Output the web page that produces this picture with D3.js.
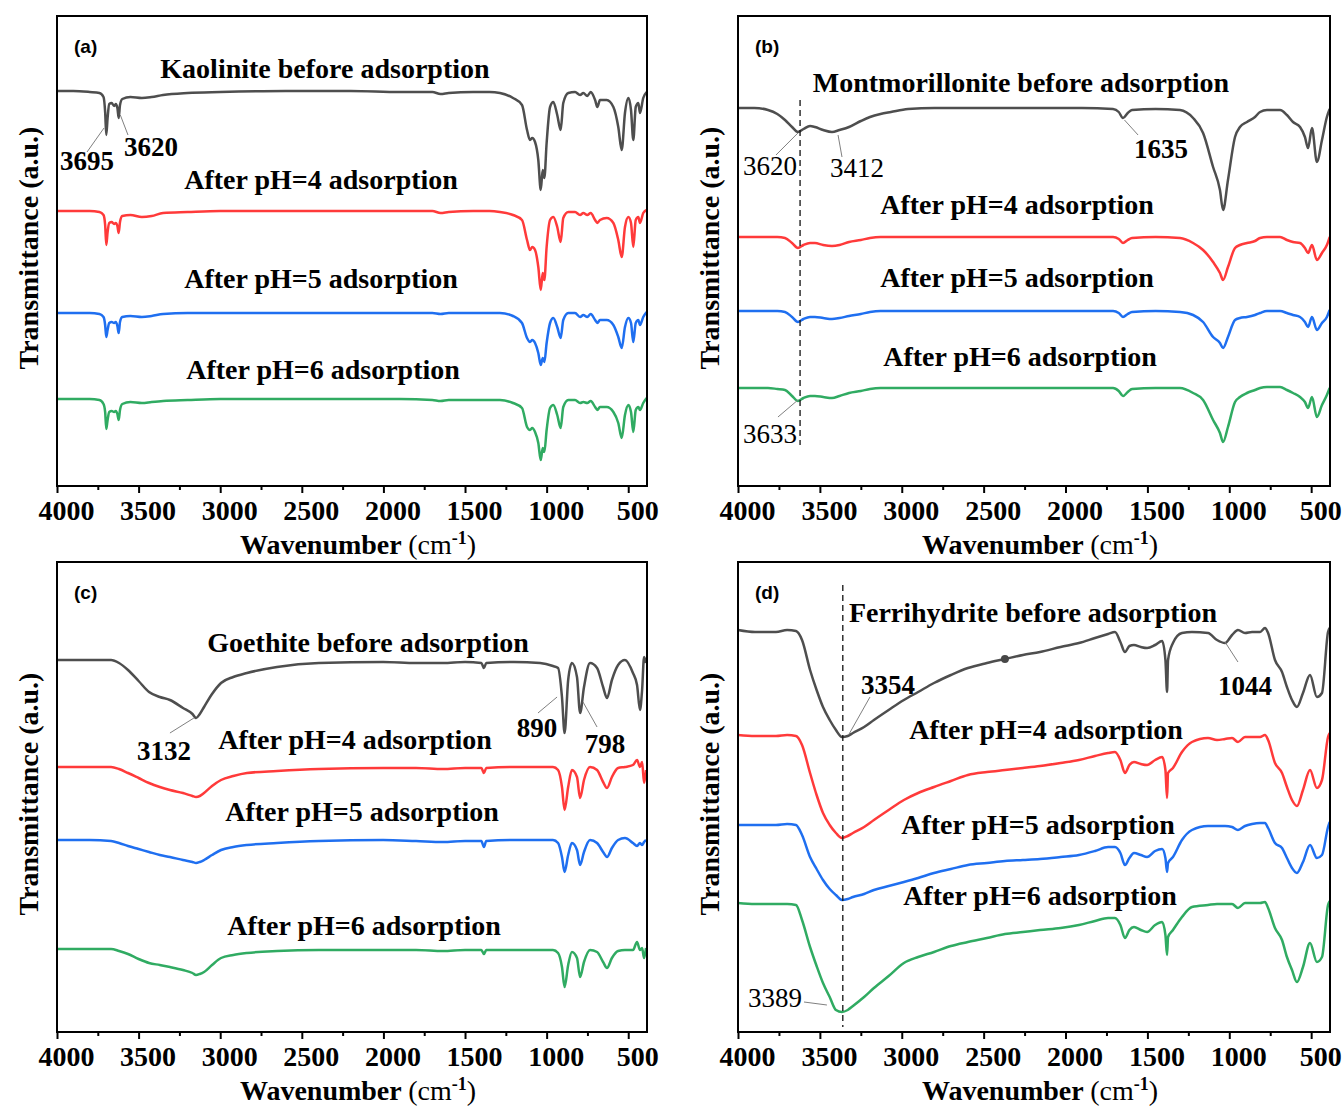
<!DOCTYPE html>
<html>
<head>
<meta charset="utf-8">
<script src="https://cdn.jsdelivr.net/npm/d3@7"></script>
<style>
  body { margin: 0; background: #fff; }
</style>
</head>
<body>
<svg id="fig"></svg>
<script>
// wavenumbers (cm-1) and transmittance (a.u., offset)

// (a) kaolinite
var wnA = [4000,3900,3800,3740,3715,3705,3698,3690,3680,3665,3650,3640,3630,3622,3614,3600,3550,3480,3420,3350,3200,3000,2600,2200,1900,1700,1650,1600,1450,1350,1286,1206,1151,1120,1102,1088,1071,1051,1036,1024,1014,1000,979,959,935,914,898,867,826,795,775,751,730,703,689,673,632,591,561,540,520,499,483,469,454,438,428,408,387];
var kaoBefore = [39.5,39.5,39.4,39.3,38.9,37.4,35.1,36.8,38.2,38.3,38.0,38.2,37.8,36.8,38.1,38.7,38.9,38.8,38.9,39.1,39.3,39.4,39.5,39.5,39.4,39.4,39.2,39.3,39.4,39.4,39.3,38.8,38.1,35.6,34.6,34.8,34.4,32.6,29.6,31.6,30.8,34.3,37.9,38.4,37.1,35.6,38.3,39.3,39.4,39.1,39.3,39.0,39.4,38.6,37.9,38.6,38.6,37.9,35.9,33.6,37.3,38.8,37.6,34.6,37.9,38.3,37.3,38.8,39.4];
var kaoPH4 = [27.5,27.5,27.5,27.4,27.1,26.1,24.1,25.4,26.3,26.4,26.2,26.3,26.0,25.3,26.4,27.0,27.1,26.9,27.0,27.3,27.4,27.5,27.5,27.5,27.5,27.5,27.3,27.4,27.5,27.5,27.4,27.1,26.6,24.6,23.6,23.9,23.6,21.9,19.6,21.3,20.6,23.9,26.6,26.9,25.9,24.4,26.8,27.4,27.4,27.1,27.3,27.1,27.3,26.6,26.3,26.6,26.8,26.3,24.6,22.9,25.9,26.9,26.3,23.9,26.6,26.9,26.3,27.3,27.6];
var kaoPH5 = [17.3,17.3,17.3,17.2,16.9,16.1,14.9,15.6,16.3,16.4,16.3,16.4,16.0,15.3,16.4,16.9,17.0,16.9,17.0,17.2,17.3,17.3,17.3,17.3,17.3,17.3,17.2,17.3,17.3,17.3,17.3,17.0,16.3,14.8,14.4,14.6,14.3,13.3,12.1,12.8,12.4,14.3,16.3,16.8,15.9,14.8,16.6,17.3,17.3,16.9,17.1,16.9,17.2,16.6,16.3,16.6,16.6,16.1,14.9,13.8,15.9,16.8,16.3,14.4,16.3,16.6,16.1,16.9,17.4];
var kaoPH6 = [8.7,8.7,8.7,8.6,8.2,7.4,5.7,6.6,7.4,7.5,7.4,7.5,7.2,6.6,7.6,8.2,8.4,8.3,8.4,8.5,8.6,8.7,8.7,8.7,8.7,8.6,8.5,8.6,8.6,8.6,8.6,8.3,7.8,5.9,5.6,5.8,5.4,4.3,2.6,3.8,3.4,5.6,7.8,8.1,7.1,5.8,7.9,8.6,8.6,8.3,8.4,8.3,8.5,7.9,7.6,7.9,7.9,7.4,6.3,4.8,7.1,8.1,7.4,5.4,7.6,7.9,7.6,8.3,8.8];

// (b) montmorillonite
var wnB = [4000,3900,3817,3760,3713,3670,3634,3600,3560,3530,3480,3426,3380,3322,3250,3194,3130,3066,2962,2800,2500,2200,1900,1710,1675,1649,1620,1594,1450,1301,1221,1160,1099,1057,1038,1008,965,935,892,843,812,770,690,648,611,568,538,519,495,465,434,404,387];
var monBefore = [37.8,37.8,37.6,37.2,36.6,35.9,35.4,35.7,36.0,35.9,35.6,35.4,35.6,35.9,36.5,36.9,37.2,37.4,37.7,37.8,37.8,37.8,37.8,37.7,37.4,36.8,37.3,37.6,37.7,37.6,36.8,35.3,31.9,29.6,27.6,30.6,34.9,35.9,36.4,36.9,37.4,37.6,37.6,37.1,36.4,35.9,34.9,33.8,35.8,32.4,34.6,36.9,37.7];
var monPH4 = [24.9,24.9,24.9,24.9,24.8,24.3,23.8,24.1,24.3,24.3,24.1,24.0,24.1,24.4,24.6,24.8,24.9,24.9,24.9,24.9,24.9,24.9,24.9,24.9,24.7,24.3,24.6,24.8,24.9,24.8,24.3,23.6,22.4,21.3,20.6,21.9,23.8,24.1,24.3,24.5,24.8,24.9,24.9,24.6,24.4,24.3,23.8,23.3,24.1,22.6,23.3,24.1,24.9];
var monPH5 = [17.5,17.5,17.5,17.5,17.4,16.9,16.4,16.7,16.9,16.9,16.8,16.7,16.8,17.0,17.2,17.4,17.5,17.5,17.5,17.5,17.5,17.5,17.5,17.5,17.3,16.9,17.2,17.4,17.5,17.4,17.1,16.4,14.9,14.3,13.8,14.9,16.6,16.8,16.9,17.1,17.3,17.5,17.5,17.3,17.1,16.9,16.4,15.9,16.9,15.6,16.3,16.9,17.6];
var monPH6 = [9.8,9.8,9.8,9.7,9.6,9.0,8.5,8.8,9.0,9.0,8.9,8.8,9.0,9.3,9.5,9.7,9.8,9.8,9.8,9.8,9.8,9.8,9.8,9.8,9.5,9.0,9.4,9.7,9.8,9.8,9.3,8.6,6.6,5.3,4.4,5.9,8.4,8.9,9.3,9.6,9.8,9.9,9.9,9.6,9.3,8.9,8.4,7.8,8.9,6.9,8.1,9.1,9.8];

// (c) goethite
var wnC = [4000,3800,3669,3620,3565,3500,3436,3370,3308,3228,3170,3148,3125,3099,3050,2995,2920,2836,2652,2395,2002,1800,1635,1500,1400,1384,1370,1200,1040,961,930,906,890,868,845,814,795,771,734,691,654,630,600,562,520,471,446,428,415,403,391];
var goeBefore = [37.2,37.2,37.2,36.9,36.2,35.1,34.0,33.5,33.2,32.4,31.8,31.4,31.8,32.5,33.8,34.9,35.5,35.9,36.5,36.9,37.0,36.9,36.9,37.0,36.9,36.4,36.9,37.0,36.9,36.6,36.4,33.5,29.9,35.2,36.9,35.5,31.9,34.5,36.9,36.4,34.5,33.4,35.2,36.7,37.2,35.9,34.7,32.2,34.2,37.5,36.9];
var goePH4 = [26.5,26.5,26.5,26.3,25.9,25.4,24.9,24.5,24.2,23.9,23.6,23.5,23.6,23.9,24.6,25.2,25.6,25.9,26.1,26.3,26.4,26.4,26.3,26.4,26.4,25.9,26.4,26.5,26.5,26.5,26.2,24.5,22.2,24.5,26.2,25.5,23.4,25.2,26.5,26.2,25.0,24.4,25.5,26.4,26.5,26.7,27.2,26.5,27.0,24.9,26.2];
var goePH5 = [19.2,19.2,19.1,18.9,18.6,18.3,18.0,17.7,17.5,17.2,17.0,16.9,17.0,17.2,17.7,18.2,18.5,18.7,18.9,19.1,19.2,19.1,19.0,19.1,19.1,18.5,19.1,19.2,19.2,19.2,18.9,17.5,16.0,17.7,18.9,18.2,16.7,18.0,19.2,18.9,18.0,17.5,18.4,19.2,19.4,18.9,18.6,18.9,18.7,19.0,19.2];
var goePH6 = [8.3,8.3,8.3,8.1,7.8,7.3,6.9,6.7,6.5,6.2,5.9,5.7,5.8,6.0,6.7,7.4,7.7,7.9,8.1,8.2,8.2,8.2,8.1,8.2,8.2,7.8,8.2,8.2,8.2,8.2,7.9,6.5,4.5,6.7,8.0,7.4,5.5,7.0,8.2,8.0,7.0,6.4,7.4,8.1,8.2,8.2,9.0,8.2,8.4,7.4,8.4];

// (d) ferrihydrite
var wnD = [4000,3896,3768,3700,3646,3609,3560,3520,3481,3440,3402,3365,3330,3298,3230,3170,3080,2987,2900,2803,2700,2596,2480,2370,2260,2156,2030,1918,1820,1740,1698,1665,1637,1610,1582,1540,1502,1453,1410,1390,1380,1374,1344,1289,1228,1130,1075,1026,983,947,904,861,812,782,763,721,678,648,617,587,550,507,465,434,397,387];
var ferBefore = [40.2,40.0,40.0,40.2,40.1,39.2,36.2,34.2,32.5,31.2,30.2,29.5,29.6,29.9,30.5,31.2,32.2,33.2,34.0,34.9,35.7,36.4,36.9,37.3,37.7,38.0,38.5,38.9,39.4,39.8,40.0,39.0,38.0,38.6,38.7,38.5,38.4,38.7,39.1,37.2,34.0,37.2,38.9,39.9,40.0,39.9,39.2,38.9,39.7,40.2,39.9,40.0,40.0,40.4,39.9,37.2,36.0,34.5,33.2,32.5,33.9,35.7,33.5,33.9,40.0,40.4];
var ferPH4 = [29.7,29.6,29.6,29.7,29.6,28.7,25.9,23.7,21.9,20.7,19.9,19.4,19.6,19.9,20.5,21.2,22.2,23.2,23.9,24.5,25.1,25.7,26.0,26.2,26.4,26.6,26.9,27.2,27.6,27.9,28.0,27.2,25.9,26.7,27.0,26.8,26.7,27.2,27.5,26.2,23.4,25.9,26.4,28.0,29.0,29.4,29.2,29.3,29.4,29.0,29.5,29.5,29.5,29.7,29.2,26.9,25.9,24.5,23.2,22.6,24.2,26.2,24.4,25.2,29.5,29.9];
var ferPH5 = [20.7,20.7,20.7,20.8,20.7,19.7,17.5,16.3,15.2,14.3,13.7,13.2,13.3,13.5,13.8,14.2,14.6,15.0,15.4,15.9,16.3,16.7,16.9,17.1,17.2,17.3,17.5,17.7,18.1,18.5,18.5,17.9,16.7,17.4,17.9,17.7,17.5,18.1,18.3,17.4,16.0,16.9,17.5,19.2,20.2,20.6,20.6,20.6,20.5,20.2,20.6,20.8,20.9,20.9,20.4,18.9,18.4,17.4,16.4,15.9,17.0,18.7,17.4,17.7,20.5,21.0];
var ferPH6 = [12.9,12.8,12.8,12.8,12.7,11.2,8.5,6.6,4.9,3.5,2.2,2.0,2.2,2.6,3.5,4.4,5.6,6.9,7.5,8.0,8.6,9.0,9.4,9.8,10.0,10.2,10.4,10.7,11.1,11.4,11.4,10.7,9.4,10.2,10.5,10.2,10.0,10.7,11.0,9.7,7.7,9.5,10.2,11.5,12.5,12.7,12.8,12.8,12.8,12.4,12.9,12.9,12.9,13.0,12.4,10.4,9.2,7.5,6.2,5.0,6.5,8.9,7.0,7.5,12.7,13.1];

var xTicks = [4000,3500,3000,2500,2000,1500,1000,500];
var xMinorTicks = [3750,3250,2750,2250,1750,1250,750];

var colors = ["#4e4e4e","#ff3a3a","#1f6ff0","#30ab62"];
var serif = "'Liberation Serif','Times New Roman',serif";

var panels = [
  {letter:"(a)", left:57, right:647, bottom:486, wn:wnA,
   series:[kaoBefore,kaoPH4,kaoPH5,kaoPH6],
   labels:[["Kaolinite before adsorption",2358,40.8],["After pH=4 adsorption",2382,29.7],["After pH=5 adsorption",2382,19.8],["After pH=6 adsorption",2370,10.7]],
   notes:[
     {t:"3695", wn:3816, v:31.6, bold:true, ln:[3816,33.4,3712,35.8]},
     {t:"3620", wn:3424, v:33.0, bold:true, ln:[3565,35.1,3612,37.1]}
   ]},
  {letter:"(b)", left:738, right:1330, bottom:486, wn:wnB,
   series:[monBefore,monPH4,monPH5,monPH6],
   labels:[["Montmorillonite before adsorption",2272,39.4],["After pH=4 adsorption",2296,27.2],["After pH=5 adsorption",2296,19.9],["After pH=6 adsorption",2278,12.0]],
   dash:[3621,38.6,4.1],
   notes:[
     {t:"3620", wn:3805, v:31.1, bold:false, ln:[3768,33.1,3634,35.3]},
     {t:"3412", wn:3273, v:30.9, bold:false, ln:[3365,32.9,3389,35.1]},
     {t:"1635", wn:1417, v:32.8, bold:true, ln:[1557,35.1,1640,36.6]},
     {t:"3633", wn:3805, v:4.3, bold:false, ln:[3756,6.9,3634,8.6]}
   ]},
  {letter:"(c)", left:57, right:647, bottom:1032, wn:wnC,
   series:[goeBefore,goePH4,goePH5,goePH6],
   labels:[["Goethite before adsorption",2094,38.0],["After pH=4 adsorption",2174,28.3],["After pH=5 adsorption",2131,21.1],["After pH=6 adsorption",2119,9.7]],
   notes:[
     {t:"3132", wn:3344, v:27.2, bold:true, ln:[3308,29.9,3161,31.4]},
     {t:"890", wn:1059, v:29.5, bold:true, ln:[1053,31.9,936,33.5]},
     {t:"798", wn:642, v:27.9, bold:true, ln:[691,30.5,777,33.0]}
   ]},
  {letter:"(d)", left:738, right:1330, bottom:1032, wn:wnD,
   series:[ferBefore,ferPH4,ferPH5,ferPH6],
   labels:[["Ferrihydrite before adsorption",2199,41.0],["After pH=4 adsorption",2119,29.3],["After pH=5 adsorption",2168,19.8],["After pH=6 adsorption",2156,12.7]],
   dash:[3360,44.7,0.5],
   dot:[2370,37.3],
   notes:[
     {t:"3354", wn:3084, v:33.8, bold:true, ln:[3194,33.5,3325,29.7]},
     {t:"1044", wn:904, v:33.7, bold:true, ln:[947,37.0,1026,39.0]},
     {t:"3389", wn:3774, v:2.5, bold:false, ln:[3597,3.0,3457,2.7]}
   ]}
];

var svg = d3.select("svg#fig")
            .attr("width",1343)
            .attr("height",1106)
            .style("display","block");

var drawPanel = function(p)
{
  var plotH = 470;
  var top = p.bottom - plotH;
  var xScale = d3.scaleLinear().domain([4000,385]).range([p.left,p.right]);
  var yScale = d3.scaleLinear().domain([0,47]).range([p.bottom,top]);

  var g = svg.append("g").classed("panel",true);

  // spectra
  var line = d3.line()
               .x(function(d){return xScale(d[0])})
               .y(function(d){return yScale(d[1])})
               .curve(d3.curveMonotoneX);

  g.selectAll("path.spectrum")
   .data(p.series)
   .enter()
   .append("path")
   .classed("spectrum",true)
   .attr("d",function(s){return line(p.wn.map(function(w,i){return [w,s[i]]}))})
   .attr("fill","none")
   .attr("stroke",function(s,i){return colors[i]})
   .attr("stroke-width",2.5)
   .attr("stroke-linejoin","round");

  // dashed reference line
  if (p.dash) {
    g.append("line")
     .attr("x1",xScale(p.dash[0])).attr("x2",xScale(p.dash[0]))
     .attr("y1",yScale(p.dash[1])).attr("y2",yScale(p.dash[2]))
     .attr("stroke","#111").attr("stroke-width",1.3)
     .attr("stroke-dasharray","6,4");
  }
  if (p.dot) {
    g.append("circle")
     .attr("cx",xScale(p.dot[0])).attr("cy",yScale(p.dot[1]))
     .attr("r",4).attr("fill","#474747");
  }

  // curve labels
  g.selectAll("text.curveLabel")
   .data(p.labels)
   .enter()
   .append("text")
   .classed("curveLabel",true)
   .attr("x",function(d){return xScale(d[1])})
   .attr("y",function(d){return yScale(d[2])})
   .attr("text-anchor","middle")
   .style("font-family",serif)
   .style("font-weight","bold")
   .style("font-size","28px")
   .text(function(d){return d[0]});

  // peak annotations
  g.selectAll("line.leader")
   .data(p.notes)
   .enter()
   .append("line")
   .classed("leader",true)
   .attr("x1",function(d){return xScale(d.ln[0])})
   .attr("y1",function(d){return yScale(d.ln[1])})
   .attr("x2",function(d){return xScale(d.ln[2])})
   .attr("y2",function(d){return yScale(d.ln[3])})
   .attr("stroke","#808080")
   .attr("stroke-width",1);

  g.selectAll("text.note")
   .data(p.notes)
   .enter()
   .append("text")
   .classed("note",true)
   .attr("x",function(d){return xScale(d.wn)})
   .attr("y",function(d){return yScale(d.v)})
   .attr("text-anchor","middle")
   .style("font-family",serif)
   .style("font-weight",function(d){return d.bold ? "bold" : "normal"})
   .style("font-size","27px")
   .text(function(d){return d.t});

  // frame
  g.append("rect")
   .attr("x",p.left).attr("y",top)
   .attr("width",p.right-p.left).attr("height",plotH)
   .attr("fill","none").attr("stroke","#000").attr("stroke-width",2);

  // x axis
  var xAxis = d3.axisBottom(xScale).tickValues(xTicks).tickSize(7).tickFormat(d3.format("d"));
  var ax = g.append("g").classed("xAxis",true)
            .attr("transform","translate(0,"+p.bottom+")")
            .call(xAxis);
  ax.select(".domain").remove();
  ax.selectAll("line").attr("stroke","#000").attr("stroke-width",2);
  ax.selectAll("text")
    .attr("y",34).attr("dy",null).attr("dx",9)
    .attr("fill","#000")
    .style("font-family",serif)
    .style("font-weight","bold")
    .style("font-size","28px");

  var minor = g.append("g").classed("xMinor",true)
               .attr("transform","translate(0,"+p.bottom+")")
               .call(d3.axisBottom(xScale).tickValues(xMinorTicks).tickSize(4).tickFormat(""));
  minor.select(".domain").remove();
  minor.selectAll("line").attr("stroke","#000").attr("stroke-width",2);

  // axis titles
  var xt = g.append("text")
            .attr("x",(p.left+p.right)/2+6)
            .attr("y",p.bottom+68)
            .attr("text-anchor","middle")
            .style("font-family",serif)
            .style("font-size","28px");
  xt.append("tspan").style("font-weight","bold").text("Wavenumber ");
  xt.append("tspan").text("(cm");
  xt.append("tspan").attr("dy",-10).style("font-size","18px").style("font-weight","bold").text("-1");
  xt.append("tspan").attr("dy",10).text(")");

  g.append("text")
   .attr("transform","translate("+(p.left-19)+","+(top+plotH/2-3)+") rotate(-90)")
   .attr("text-anchor","middle")
   .style("font-family",serif)
   .style("font-weight","bold")
   .style("font-size","28px")
   .text("Transmittance (a.u.)");

  g.append("text")
   .attr("x",p.left+17)
   .attr("y",top+37)
   .style("font-family","'Liberation Sans',Arial,sans-serif")
   .style("font-weight","bold")
   .style("font-size","19px")
   .text(p.letter);
}

panels.forEach(function(p){drawPanel(p)});
</script>
</body>
</html>
